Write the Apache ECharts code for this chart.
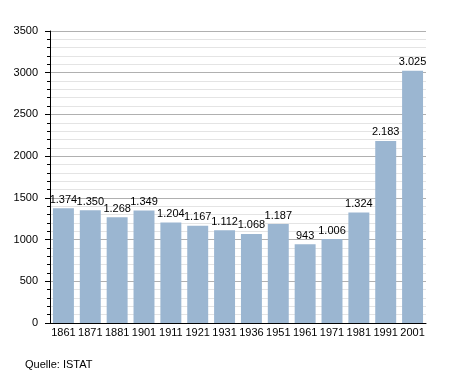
<!DOCTYPE html>
<html><head><meta charset="utf-8">
<script src="https://cdn.jsdelivr.net/npm/echarts@6/dist/echarts.min.js"></script>
<style>html,body{margin:0;padding:0;background:#fff}#c{width:455px;height:373px}</style>
</head><body><div id="c"></div>
<script>
const years = ['1861','1871','1881','1901','1911','1921','1931','1936','1951','1961','1971','1981','1991','2001'];
const population = [1374,1350,1268,1349,1204,1167,1112,1068,1187,943,1006,1324,2183,3025];
const yTicks = [0,500,1000,1500,2000,2500,3000,3500];
const chart = echarts.init(document.getElementById('c'));
const fmt = v => { const s = String(v); return s.length > 3 ? s.slice(0, s.length-3) + '.' + s.slice(-3) : s; };
chart.setOption({
  animation:false,
  textStyle:{fontFamily:'Liberation Sans'},
  title:{text:'Quelle: ISTAT',left:20,top:354,textStyle:{fontSize:11,fontWeight:'normal',color:'#000',fontFamily:'Liberation Sans'}},
  grid:{left:50,right:29,top:31,bottom:50,containLabel:false},
  xAxis:{type:'category',data:years,
    axisLine:{lineStyle:{color:'#000',width:1}},
    axisTick:{show:false},
    axisLabel:{color:'#000',fontSize:11,margin:4,interval:0}},
  yAxis:{type:'value',min:yTicks[0],max:yTicks[yTicks.length-1],interval:500,
    axisLine:{show:true,lineStyle:{color:'#000'}},
    axisTick:{show:true,length:5,lineStyle:{color:'#000'}},
    minorTick:{show:true,splitNumber:5,length:3,lineStyle:{color:'#000'}},
    splitLine:{lineStyle:{color:'#b0b0b0'}},
    minorSplitLine:{show:true,lineStyle:{color:'#e4e4e4'}},
    axisLabel:{color:'#000',fontSize:11,margin:12,formatter:v=>String(v)}},
  series:[{type:'bar',data:population,barCategoryGap:'22%',
    itemStyle:{color:'#9bb6d1'},
    label:{show:true,position:'top',distance:3,color:'#000',fontSize:11,formatter:p=>fmt(p.value)}}]
});
</script></body></html>
